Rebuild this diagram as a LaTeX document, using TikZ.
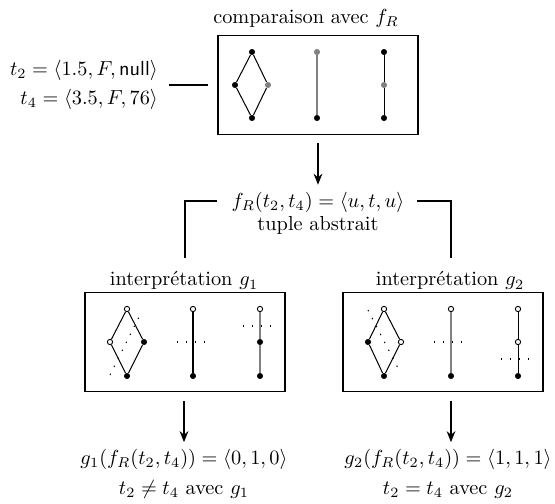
\documentclass[tikz,border=0pt]{standalone}
\usepackage{amsmath,amssymb}
\usepackage{tikz}
\usetikzlibrary{arrows.meta,positioning}

\begin{document}
\begin{tikzpicture}[x=0.492pt,y=-0.492pt,
  box/.style={draw,line width=0.8pt,minimum width=98.4pt,minimum height=48.7pt},
  pt/.style={circle,fill=black,inner sep=0pt,minimum size=3pt},
  op/.style={circle,draw,fill=white,inner sep=0pt,minimum size=2.6pt,line width=0.45pt},
  gp/.style={circle,fill=gray,inner sep=0pt,minimum size=3pt},
  ln/.style={line width=0.5pt},
  gl/.style={line width=0.55pt,gray},
  sep/.style={line width=0.5pt,dash pattern=on 0.7pt off 3.7pt},
  arr/.style={-{Stealth[length=1.9mm,width=1.5mm]},line width=0.8pt}]
\useasboundingbox (0,0) rectangle (555,504);

% comparaison
\node (titre) at (306,18) {comparaison avec $f_R$};
\node[box] (cmp) at (318,85) {};
\node[align=right,anchor=east] (tup) at (165,85)
  {$t_2=\langle 1.5,F,\mathsf{null}\rangle$\\[2.3pt] $t_4=\langle 3.5,F,76\rangle$};
\draw[line width=0.8pt,shorten <=2pt,shorten >=4.4pt] (tup.east |- cmp.west) -- (cmp.west);
\node[pt] (c1t) at (252,52) {};
\node[pt] (c1l) at (235,85) {};
\node[gp] (c1r) at (268,85) {};
\node[pt] (c1b) at (252,118) {};
\draw[ln] (c1t) -- (c1l) -- (c1b) -- (c1r) -- (c1t);
\node[gp] (c2t) at (317,52) {};
\node[pt] (c2b) at (317,118) {};
\draw[gl] (c2t) -- (c2b);
\node[pt] (c3t) at (384,52) {};
\node[gp] (c3m) at (384,85) {};
\node[pt] (c3b) at (384,118) {};
\draw[ln] (c3t) -- (c3m) -- (c3b);

% tuple abstrait
\node[align=center] (fab) at (318,213)
  {$f_R(t_2,t_4)=\langle u,t,u\rangle$\\[-0.7pt] tuple abstrait};
\draw[arr,shorten <=4pt] (cmp) -- (fab);
\coordinate (kl) at (217,201);
\coordinate (kl2) at (185,258);
\coordinate (kr) at (417,201);
\coordinate (kr2) at (451,258);
\draw[line width=0.75pt] (kl) -| (kl2);
\draw[line width=0.75pt] (kr) -| (kr2);

% interpretation g1
\node[anchor=base] (int1) at (184,286) {interpr\'etation $g_1$};
\node[box] (box1) at (185,342) {};
\node[op] (a1t) at (127,309) {};
\node[op] (a1l) at (110,342) {};
\node[pt] (a1r) at (144,342) {};
\node[pt] (a1b) at (127,376) {};
\draw[ln] (a1t) -- (a1l) -- (a1b) -- (a1r) -- (a1t);
\draw[sep] (110,375) -- (141,313);
\node[op] (a2t) at (193,309) {};
\node[pt] (a2b) at (193,376) {};
\draw[ln] (a2t) -- (a2b);
\draw[sep] (177,342) -- (206,342);
\node[op] (a3t) at (260,309) {};
\node[pt] (a3m) at (260,342) {};
\node[pt] (a3b) at (260,376) {};
\draw[gl] (a3t) -- (a3m) -- (a3b);
\draw[sep] (243,326) -- (273,326);

% interpretation g2
\node[anchor=base] (int2) at (450,286) {interpr\'etation $g_2$};
\node[box] (box2) at (443,342) {};
\node[op] (b1t) at (384,309) {};
\node[pt] (b1l) at (368,342) {};
\node[op] (b1r) at (401,342) {};
\node[pt] (b1b) at (384,376) {};
\draw[ln] (b1t) -- (b1l) -- (b1b) -- (b1r) -- (b1t);
\draw[sep] (368,310) -- (400,372);
\node[op] (b2t) at (451,309) {};
\node[pt] (b2b) at (451,376) {};
\draw[gl] (b2t) -- (b2b);
\draw[sep] (434,342) -- (464,342);
\node[op] (b3t) at (518,309) {};
\node[op] (b3m) at (518,342) {};
\node[pt] (b3b) at (518,376) {};
\draw[ln] (b3t) -- (b3m) -- (b3b);
\draw[sep] (501,359) -- (530,359);

% resultats
\node[align=center] (res1) at (184,474)
  {$g_1(f_R(t_2,t_4))=\langle 0,1,0\rangle$\\[2.8pt] $t_2\neq t_4$ avec $g_1$};
\node[align=center] (res2) at (448,474)
  {$g_2(f_R(t_2,t_4))=\langle 1,1,1\rangle$\\[2.8pt] $t_2=t_4$ avec $g_2$};
\draw[arr,shorten <=4.4pt] (box1.south -| res1.north) -- (res1.north);
\draw[arr,shorten <=4.4pt] (box2.south -| kr2) -- (res2.north -| kr2);
\end{tikzpicture}
\end{document}
